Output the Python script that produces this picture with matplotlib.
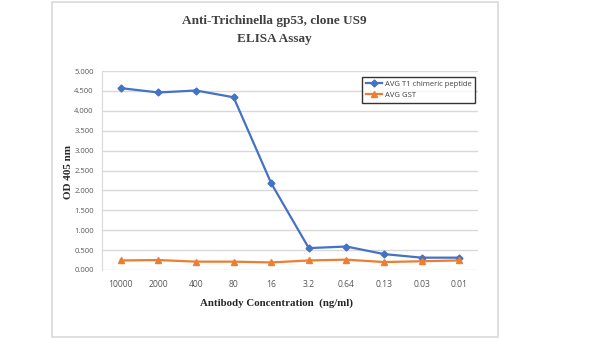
import numpy as np
import matplotlib.pyplot as plt
from matplotlib.patches import Rectangle

concentrations = ['10000', '2000', '400', '80', '16', '3.2', '0.64', '0.13', '0.03', '0.01']
avg_t1 = [4.57, 4.46, 4.51, 4.34, 2.18, 0.55, 0.59, 0.40, 0.31, 0.31]
avg_gst = [0.24, 0.25, 0.21, 0.21, 0.19, 0.24, 0.26, 0.20, 0.22, 0.24]
yticks = np.arange(0, 5.01, 0.5)

fig = plt.figure(figsize=(6, 3.38), dpi=100)
# outer chart frame
fig.patches.append(Rectangle((52 / 600, 1 / 338), 446 / 600, 335 / 338,
                             transform=fig.transFigure, fill=False,
                             edgecolor='#d9d9d9', linewidth=1.2))

ax = fig.add_axes([102 / 600, 68 / 338, 376 / 600, 199 / 338])
x = np.arange(len(concentrations))
ax.plot(x, avg_t1, color='#4472C4', marker='D', markersize=3.5, linewidth=1.6,
        label='AVG T1 chimeric peptide')
ax.plot(x, avg_gst, color='#ED7D31', marker='^', markersize=5, linewidth=1.6,
        label='AVG GST')

ax.set_xlim(-0.5, len(concentrations) - 0.5)
ax.set_ylim(0, 5)
ax.set_yticks(yticks)
ax.set_yticklabels(['{:.3f}'.format(v) for v in yticks])
ax.set_xticks(x)
ax.set_xticklabels(concentrations)
ax.yaxis.grid(True, color='#d9d9d9', linewidth=1)
ax.set_axisbelow(True)
for s in ['top', 'right', 'bottom']:
    ax.spines[s].set_visible(False)
ax.spines['left'].set_color('#d9d9d9')
ax.tick_params(length=0, labelcolor='#595959')
ax.tick_params(axis='y', labelsize=5.5, pad=6)
ax.tick_params(axis='x', labelsize=6.2, pad=7)
for lab in ax.get_xticklabels() + ax.get_yticklabels():
    lab.set_family('Open Sans')

serif = 'Liberation Serif'
fig.text(0.457, 0.937, 'Anti-Trichinella gp53, clone US9', ha='center', va='center',
         family=serif, weight='bold', fontsize=9.5, color='#404040')
fig.text(0.457, 0.885, 'ELISA Assay', ha='center', va='center',
         family=serif, weight='bold', fontsize=9.5, color='#404040')
fig.text(68.5 / 600, 0.49, 'OD 405 nm', rotation=90, ha='center', va='center',
         family=serif, weight='bold', fontsize=8, color='#262626')
fig.text(0.461, 0.104, 'Antibody Concentration  (ng/ml)', ha='center', va='center',
         family=serif, weight='bold', fontsize=7.8, color='#262626')

leg = ax.legend(loc='upper right', bbox_to_anchor=(1.003, 0.99),
                frameon=True, fancybox=False, borderpad=0.5, handlelength=2.2,
                handletextpad=0.3, labelspacing=0.5,
                prop={'family': 'Open Sans', 'size': 5.5})
leg.get_frame().set_edgecolor('#000000')
leg.get_frame().set_linewidth(1)
for t in leg.get_texts():
    t.set_color('#404040')

fig.savefig('out.png', dpi=100)
